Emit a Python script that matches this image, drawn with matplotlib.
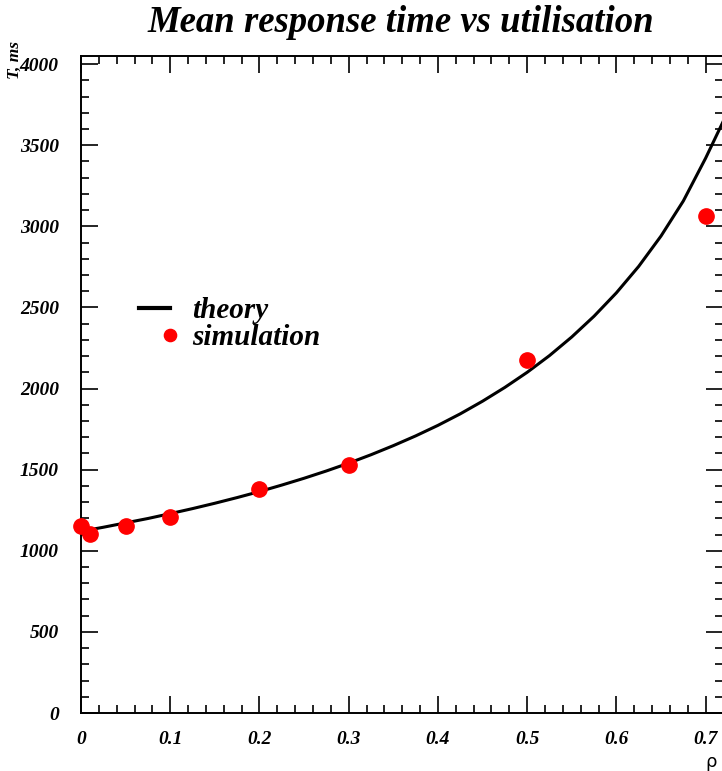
import numpy as np
import matplotlib
matplotlib.use('Agg')
import matplotlib.pyplot as plt
from matplotlib.legend_handler import HandlerLine2D
from matplotlib.ticker import MultipleLocator

# simulation points (utilisation, mean response time in ms)
sim_rho = [0.0, 0.01, 0.05, 0.1, 0.2, 0.3, 0.5, 0.7]
sim_T = [1155, 1105, 1150, 1210, 1383, 1527, 2178, 3062]

# theory curve
theory_rho = [0.0, 0.025, 0.05, 0.075, 0.1, 0.125, 0.15, 0.175, 0.2, 0.225,
              0.25, 0.275, 0.3, 0.325, 0.35, 0.375, 0.4, 0.425, 0.45, 0.475,
              0.5, 0.525, 0.55, 0.575, 0.6, 0.625, 0.65, 0.675, 0.7, 0.72]
theory_T = [1120, 1145, 1172, 1199, 1229, 1260, 1293, 1328, 1365, 1405,
            1447, 1492, 1540, 1592, 1648, 1708, 1773, 1844, 1922, 2007,
            2100, 2203, 2318, 2446, 2590, 2753, 2940, 3156, 3420, 3650]

x_ticks = [0, 0.1, 0.2, 0.3, 0.4, 0.5, 0.6, 0.7]
x_ticklabels = ['0', '0.1', '0.2', '0.3', '0.4', '0.5', '0.6', '0.7']
y_ticks = [0, 500, 1000, 1500, 2000, 2500, 3000, 3500, 4000]


class RightDot(HandlerLine2D):
    # put the single legend marker at the right end of the handle
    def get_xdata(self, legend, xdescent, ydescent, width, height, fontsize):
        x = -xdescent + width
        return [x, x], [x]


serif = 'Liberation Serif'
fig = plt.figure(figsize=(7.22, 7.71), dpi=100)
ax = fig.add_axes([81 / 722, 58 / 771, 642 / 722, 657 / 771])

ax.plot(theory_rho, theory_T, color='black', lw=2.2, label='theory', zorder=2)
ax.plot(sim_rho, sim_T, 'o', color='#ff0000', ms=11, mec='#ff0000',
        label='simulation', zorder=3, clip_on=False)

ax.set_xlim(0, 0.7195)
ax.set_ylim(0, 4050)
ax.set_xticks(x_ticks)
ax.set_xticklabels(x_ticklabels)
ax.set_yticks(y_ticks)
ax.xaxis.set_minor_locator(MultipleLocator(0.02))
ax.yaxis.set_minor_locator(MultipleLocator(100))
ax.tick_params(which='both', direction='in', top=True, right=True, width=1.2)
ax.tick_params(which='major', length=12)
ax.tick_params(which='minor', length=6)
ax.tick_params(axis='x', pad=13)
ax.tick_params(axis='y', pad=16)
for lab in ax.get_xticklabels() + ax.get_yticklabels():
    lab.set_fontfamily(serif)
    lab.set_fontweight('bold')
    lab.set_fontstyle('italic')
    lab.set_fontsize(14)
for sp in ax.spines.values():
    sp.set_linewidth(1.4)

fig.text(0.555, 1 - 22 / 771, 'Mean response time vs utilisation', ha='center', va='center',
         family=serif, weight='bold', style='italic', fontsize=26.5)
fig.text(15 / 722, 1 - 41 / 771, 'T, ms', rotation=90, ha='center', va='top',
         family=serif, weight='bold', style='italic', fontsize=12.5)
fig.text(711 / 722, 1 - 762 / 771, '\u03c1', ha='center', va='center',
         family='DejaVu Sans', fontsize=13)

leg = ax.legend(loc='upper left', bbox_to_anchor=(0.058, 0.664), frameon=False,
                numpoints=1, handlelength=1.07, handletextpad=0.78, labelspacing=0.0,
                markerscale=0.8, borderpad=0.2,
                handler_map={ax.lines[1]: RightDot()},
                prop={'family': serif, 'weight': 'bold', 'style': 'italic', 'size': 21})
leg.get_lines()[0].set_linewidth(3)

fig.savefig('out.png', dpi=100)
